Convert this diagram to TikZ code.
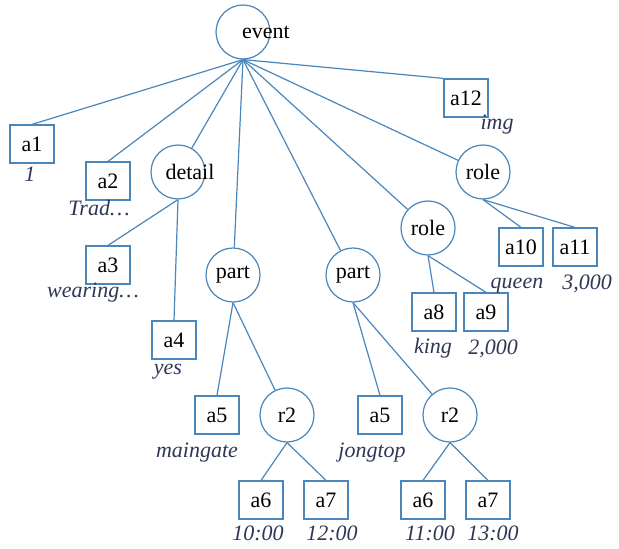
\documentclass[tikz,border=0pt]{standalone}
\usepackage{fontspec}
\setmainfont{Liberation Serif}
\usepackage{tikz}
\pgfdeclarelayer{bg}
\pgfsetlayers{bg,main}
\definecolor{linkblue}{HTML}{4A86BC}
\definecolor{valink}{HTML}{2F3656}
\tikzset{
    every node/.style={inner sep=0mm, font=\fontsize{11}{13}\selectfont}
}
\tikzset{attr/.style={circle, draw=linkblue, line width=.6pt, minimum size=27pt}}
\tikzset{leaf/.style={rectangle, draw=linkblue, line width=.6pt, minimum width=22pt, minimum height=19pt}}
\tikzset{val/.style={anchor=base, text=valink, font=\fontsize{11}{13}\selectfont\itshape}}
\tikzset{every label/.style={shape=rectangle, draw=none, text=black}}

\begin{document}
\begin{tikzpicture}[x=0.5pt, y=-0.5pt]
        \useasboundingbox (0,0) rectangle (619,549);
        % inner nodes
        \node (event) [attr, label={[xshift=11.5pt]center:event}] at (243, 32) {};
        \node (detail) [attr, label={[xshift=6pt]center:detail}] at (178, 172) {};
        \node (part1) [attr] at (233, 275) {part};
        \node (part2) [attr] at (353, 275) {part};
        \node (role1) [attr] at (428, 228) {role};
        \node (role2) [attr] at (483, 172) {role};
        \node (r2l) [attr] at (287, 415) {r2};
        \node (r2r) [attr] at (450, 415) {r2};
        % leaves
        \node (a1) [leaf] at (32, 144) {a1};
        \node (a2) [leaf] at (108, 181) {a2};
        \node (a3) [leaf] at (108, 265) {a3};
        \node (a4) [leaf] at (174, 340) {a4};
        \node (a5l) [leaf] at (217, 415) {a5};
        \node (a6l) [leaf] at (261, 500) {a6};
        \node (a7l) [leaf] at (326, 500) {a7};
        \node (a5r) [leaf] at (380, 415) {a5};
        \node (a6r) [leaf] at (423, 500) {a6};
        \node (a7r) [leaf] at (488, 500) {a7};
        \node (a8) [leaf] at (434, 312) {a8};
        \node (a9) [leaf] at (486, 312) {a9};
        \node (a10) [leaf] at (521, 247) {a10};
        \node (a11) [leaf] at (575, 247) {a11};
        \node (a12) [leaf] at (466, 98) {a12};
        % values under the leaves
        \node (v1) [val] at (30, 182) {1};
        \node (v2) [val] at (99, 216) {Trad\ldots};
        \node (v3) [val] at (93, 298) {wearing\ldots};
        \node (v4) [val] at (168, 374) {yes};
        \node (v5l) [val] at (197, 457) {maingate};
        \node (v5r) [val] at (372, 457) {jongtop};
        \node (v6l) [val] at (258, 540) {10:00};
        \node (v7l) [val] at (332, 540) {12:00};
        \node (v6r) [val] at (430, 540) {11:00};
        \node (v7r) [val] at (493, 540) {13:00};
        \node (v8) [val] at (433, 353) {king};
        \node (v9) [val] at (493, 354) {2,000};
        \node (v10) [val] at (517, 289) {queen};
        \node (v11) [val] at (587, 290) {3,000};
        \node (v12) [val] at (497, 130) {img};
        \begin{pgfonlayer}{bg}
                \draw [linkblue, line width=.6pt] (event.south) edge (a1.north);
                \draw [linkblue, line width=.6pt] (event.south) edge (a2.north);
                \draw [linkblue, line width=.6pt] (event.south) edge (detail);
                \draw [linkblue, line width=.6pt] (event.south) edge (part1);
                \draw [linkblue, line width=.6pt] (event.south) edge (part2);
                \draw [linkblue, line width=.6pt] (event.south) edge (role1);
                \draw [linkblue, line width=.6pt] (event.south) edge (role2);
                \draw [linkblue, line width=.6pt] (event.south) edge (a12.north west);
                \draw [linkblue, line width=.6pt] (detail.south) edge (a3.north);
                \draw [linkblue, line width=.6pt] (detail.south) edge (a4.north);
                \draw [linkblue, line width=.6pt] (part1.south) edge (a5l.north);
                \draw [linkblue, line width=.6pt] (part1.south) edge (r2l);
                \draw [linkblue, line width=.6pt] (r2l.south) edge (a6l.north);
                \draw [linkblue, line width=.6pt] (r2l.south) edge (a7l.north);
                \draw [linkblue, line width=.6pt] (part2.south) edge (a5r.north);
                \draw [linkblue, line width=.6pt] (part2.south) edge (r2r);
                \draw [linkblue, line width=.6pt] (r2r.south) edge (a6r.north);
                \draw [linkblue, line width=.6pt] (r2r.south) edge (a7r.north);
                \draw [linkblue, line width=.6pt] (role1.south) edge (a8.north);
                \draw [linkblue, line width=.6pt] (role1.south) edge (a9.north);
                \draw [linkblue, line width=.6pt] (role2.south) edge (a10.north);
                \draw [linkblue, line width=.6pt] (role2.south) edge (a11.north);
        \end{pgfonlayer}
\end{tikzpicture}
\end{document}
